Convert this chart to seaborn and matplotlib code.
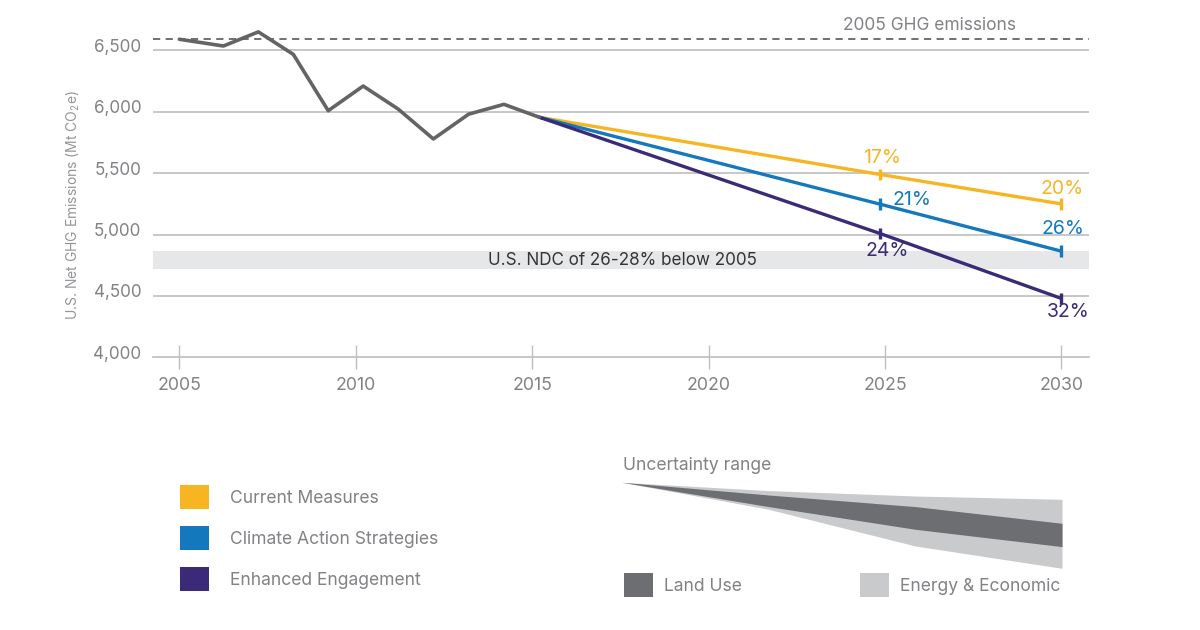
import pandas as pd
import seaborn as sns
import matplotlib.pyplot as plt
from matplotlib.patches import Patch
from matplotlib.transforms import ScaledTranslation

W, H = 1200, 630

hist_years = [2005, 2006.25, 2007.24, 2008.23, 2009.22, 2010.21, 2011.2, 2012.2, 2013.2, 2014.2, 2015.2]
hist_values = [6590, 6535, 6650, 6467, 6008, 6209, 6022, 5778, 5980, 6060, 5955]

scenario_names = ['Current Measures', 'Climate Action Strategies', 'Enhanced Engagement']
scenario_colors = ['#F7B522', '#1479BC', '#3A2A78']
scenario_years = [2015.2, 2024.86, 2030]
current_values = [5955, 5489, 5249]
climate_values = [5955, 5247, 4864]
enhanced_values = [5955, 5008, 4479]

baseline_2005 = 6590
ndc_low, ndc_high = 4720, 4862

y_ticks = [4000, 4500, 5000, 5500, 6000, 6500]
x_ticks = [2005, 2010, 2015, 2020, 2025, 2030]

pct_labels = ['17%', '21%', '24%', '20%', '26%', '32%']
pct_x = [2024.9, 2025.76, 2025.06, 2030.03, 2030.03, 2030.18]
pct_y = [5621, 5282, 4866, 5369, 5041, 4370]
pct_color_idx = [0, 1, 2, 0, 1, 2]

# uncertainty fan, read as distance below the apex
fan_x = [2015, 2020, 2025, 2030]
fan_outer_top = [0, 8.3, 13.7, 17]
fan_inner_top = [0, 12.7, 24.3, 41]
fan_inner_bot = [0, 24.3, 47, 64.3]
fan_outer_bot = [0, 27, 63.7, 86]

GREY = '#636466'
GRID = '#BCBEC0'
TEXT = '#808285'


def px_axes(fig, left, top, right, bottom):
    return fig.add_axes([left / W, 1 - bottom / H, (right - left) / W, (bottom - top) / H])


sns.set_theme(style='white')
plt.rcParams['font.family'] = ['Inter', 'DejaVu Sans']
plt.rcParams['mathtext.default'] = 'regular'

fig = plt.figure(figsize=(W / 100, H / 100), dpi=100, facecolor='white')

ax = px_axes(fig, 152.5, 19.6, 1089, 357.3)
ax.set_xlim(2004.24, 2030.78)
ax.set_ylim(4000, 6750)

ax.axhspan(ndc_low, ndc_high, color='#E6E7E8', lw=0, zorder=1)
for v in y_ticks[1:]:
    ax.axhline(v, color=GRID, lw=1.2, zorder=1)
ax.axhline(baseline_2005, color=GREY, lw=1.3, dashes=(4, 3), zorder=2)

hist = pd.DataFrame({'year': hist_years, 'value': hist_values})
sns.lineplot(data=hist, x='year', y='value', color=GREY, lw=2.6, ax=ax, zorder=4, errorbar=None, sort=False)

scen = pd.DataFrame({
    'year': scenario_years * 3,
    'value': current_values + climate_values + enhanced_values,
    'scenario': [n for n in scenario_names for _ in scenario_years],
})
sns.lineplot(data=scen, x='year', y='value', hue='scenario', hue_order=scenario_names,
             palette=scenario_colors, lw=2.4, ax=ax, zorder=3, errorbar=None, legend=False)
ends = scen[scen['year'] > 2016]
sns.scatterplot(data=ends, x='year', y='value', hue='scenario', hue_order=scenario_names,
                palette=scenario_colors, marker='|', s=70, linewidth=2.4, ax=ax, zorder=5,
                legend=False, clip_on=False)

for lab, x, y, i in zip(pct_labels, pct_x, pct_y, pct_color_idx):
    ax.text(x, y, lab, color=scenario_colors[i], fontsize=14, ha='center', va='center', zorder=6)

ax.text(2026.25, 6706, '2005 GHG emissions', color=TEXT, fontsize=12.5, ha='center', va='center')
ax.text(2017.55, 4790, 'U.S. NDC of 26-28% below 2005', color='#333436', fontsize=12.3, ha='center', va='center', zorder=6)

ax.set_xticks(x_ticks)
ax.set_yticks(y_ticks)
ax.set_yticklabels([f'{v:,}' for v in y_ticks])
ax.set_xlabel('')
ax.set_ylabel('')
ax.tick_params(axis='x', bottom=True, direction='inout', length=17, width=1, color=GRID,
               labelcolor=TEXT, labelsize=12.8, pad=5.5)
ax.tick_params(axis='y', length=0, pad=8, labelcolor=TEXT, labelsize=12.3)
shift = ScaledTranslation(0, 5 / 100, fig.dpi_scale_trans)
for lbl in ax.get_yticklabels():
    lbl.set_transform(lbl.get_transform() + shift)
sns.despine(ax=ax, left=True)
ax.spines['bottom'].set_color(GRID)
ax.spines['bottom'].set_linewidth(1.2)

fig.text(73 / W, 1 - 205 / H, 'U.S. Net GHG Emissions (Mt CO$_2$e)', rotation=90, color='#939598',
         fontsize=10, ha='center', va='center')

# uncertainty fan
fan = px_axes(fig, 622, 482.3, 1062, 569)
fan.fill_between(fan_x, fan_outer_top, fan_outer_bot, color='#C9CACC', lw=0)
fan.fill_between(fan_x, fan_inner_top, fan_inner_bot, color='#6D6E71', lw=0)
fan.set_xlim(2015, 2030)
fan.set_ylim(86.7, 0)
fan.axis('off')

fig.text(623 / W, 1 - 466 / H, 'Uncertainty range', color=TEXT, fontsize=12.6, ha='left', va='center')

legend_kw = dict(frameon=False, loc='upper left', borderpad=0, borderaxespad=0, fontsize=12.6,
                 labelcolor=TEXT, handlelength=1.66, handleheight=1.73)
fig.legend(handles=[Patch(color=c, label=n, lw=0) for c, n in zip(scenario_colors, scenario_names)],
           bbox_to_anchor=(180 / W, 1 - 485 / H), labelspacing=0.97, handletextpad=1.2, **legend_kw)
fig.legend(handles=[Patch(color='#6D6E71', label='Land Use', lw=0)],
           bbox_to_anchor=(624 / W, 1 - 573 / H), handletextpad=0.63, **legend_kw)
fig.legend(handles=[Patch(color='#C9CACC', label='Energy & Economic', lw=0)],
           bbox_to_anchor=(860 / W, 1 - 573 / H), handletextpad=0.63, **legend_kw)

fig.savefig('out.png', dpi=100)
